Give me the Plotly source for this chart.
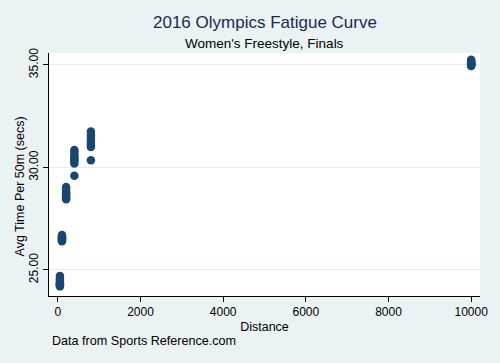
import plotly.graph_objects as go

distance_50 = [50] * 8
time_50 = [24.20, 24.25, 24.28, 24.31, 24.35, 24.45, 24.55, 24.70]
distance_100 = [100] * 8
time_100 = [26.40, 26.45, 26.50, 26.52, 26.55, 26.60, 26.65, 26.70]
distance_200 = [200] * 8
time_200 = [28.45, 28.50, 28.60, 28.70, 28.75, 28.80, 28.95, 29.05]
distance_400 = [400] * 8
time_400 = [29.60, 30.20, 30.30, 30.40, 30.50, 30.60, 30.75, 30.85]
distance_800 = [800] * 8
time_800 = [30.35, 31.00, 31.10, 31.20, 31.30, 31.45, 31.60, 31.75]
distance_10k = [10000] * 10
time_10k = [34.95, 34.98, 35.00, 35.03, 35.05, 35.08, 35.10, 35.15, 35.20, 35.25]

x = distance_50 + distance_100 + distance_200 + distance_400 + distance_800 + distance_10k
y = time_50 + time_100 + time_200 + time_400 + time_800 + time_10k

x_ticks = [0, 2000, 4000, 6000, 8000, 10000]
y_ticks = [25, 30, 35]
y_tick_labels = ["25.00", "30.00", "35.00"]

bg = "#EAF2F3"
navy = "#1A476F"
font = "Liberation Sans, Arial, sans-serif"

W, H = 500, 363
L, R, T, B = 49, 13, 53, 67

fig = go.Figure(go.Scatter(
    x=x, y=y, mode="markers",
    marker=dict(color=navy, size=8.5, line=dict(width=0)),
    showlegend=False,
))

fig.update_layout(
    width=W, height=H,
    paper_bgcolor=bg, plot_bgcolor="white",
    margin=dict(l=L, r=R, t=T, b=B),
    font=dict(family=font, color="black", size=12),
)

ph = H - T - B
pw = W - L - R
def py(pix):
    return (H - B - pix) / ph
def px(pix):
    return (pix - L) / pw

fig.add_annotation(text="2016 Olympics Fatigue Curve", x=px(268), y=py(23), xref="paper", yref="paper",
                   showarrow=False, font=dict(size=17, color="#1E2A4A"), xanchor="center", yanchor="middle")
fig.add_annotation(text="Women's Freestyle, Finals", x=px(268), y=py(43.5), xref="paper", yref="paper",
                   showarrow=False, font=dict(size=13.5, color="black"), xanchor="center", yanchor="middle")
fig.add_annotation(text="Data from Sports Reference.com", x=px(50), y=py(341), xref="paper", yref="paper",
                   showarrow=False, font=dict(size=12.6, color="black"), xanchor="left", yanchor="middle")
fig.add_annotation(text="Avg Time Per 50m (secs)", x=px(20), y=py(186), xref="paper", yref="paper",
                   showarrow=False, textangle=-90, font=dict(size=12.5, color="black"),
                   xanchor="center", yanchor="middle")

fig.update_xaxes(
    range=[-214, 10214], tickvals=x_ticks, ticktext=[str(v) for v in x_ticks],
    showgrid=False, zeroline=False, showline=True, linecolor="black", linewidth=1,
    ticks="outside", ticklen=5, tickcolor="black", tickfont=dict(size=12),
    title=dict(text="Distance", font=dict(size=12.5), standoff=3),
)
fig.update_yaxes(
    range=[23.73, 35.585], tickvals=y_ticks, ticktext=y_tick_labels, tickangle=-90,
    showgrid=True, gridcolor="#E4EDEF", gridwidth=1, zeroline=False,
    showline=True, linecolor="black", linewidth=1,
    ticks="outside", ticklen=5, tickcolor="black", tickfont=dict(size=12),
)

fig.write_html("out.html", config={"displayModeBar": False},
               post_script="document.body.style.margin='0';document.body.style.background='%s';" % bg)
